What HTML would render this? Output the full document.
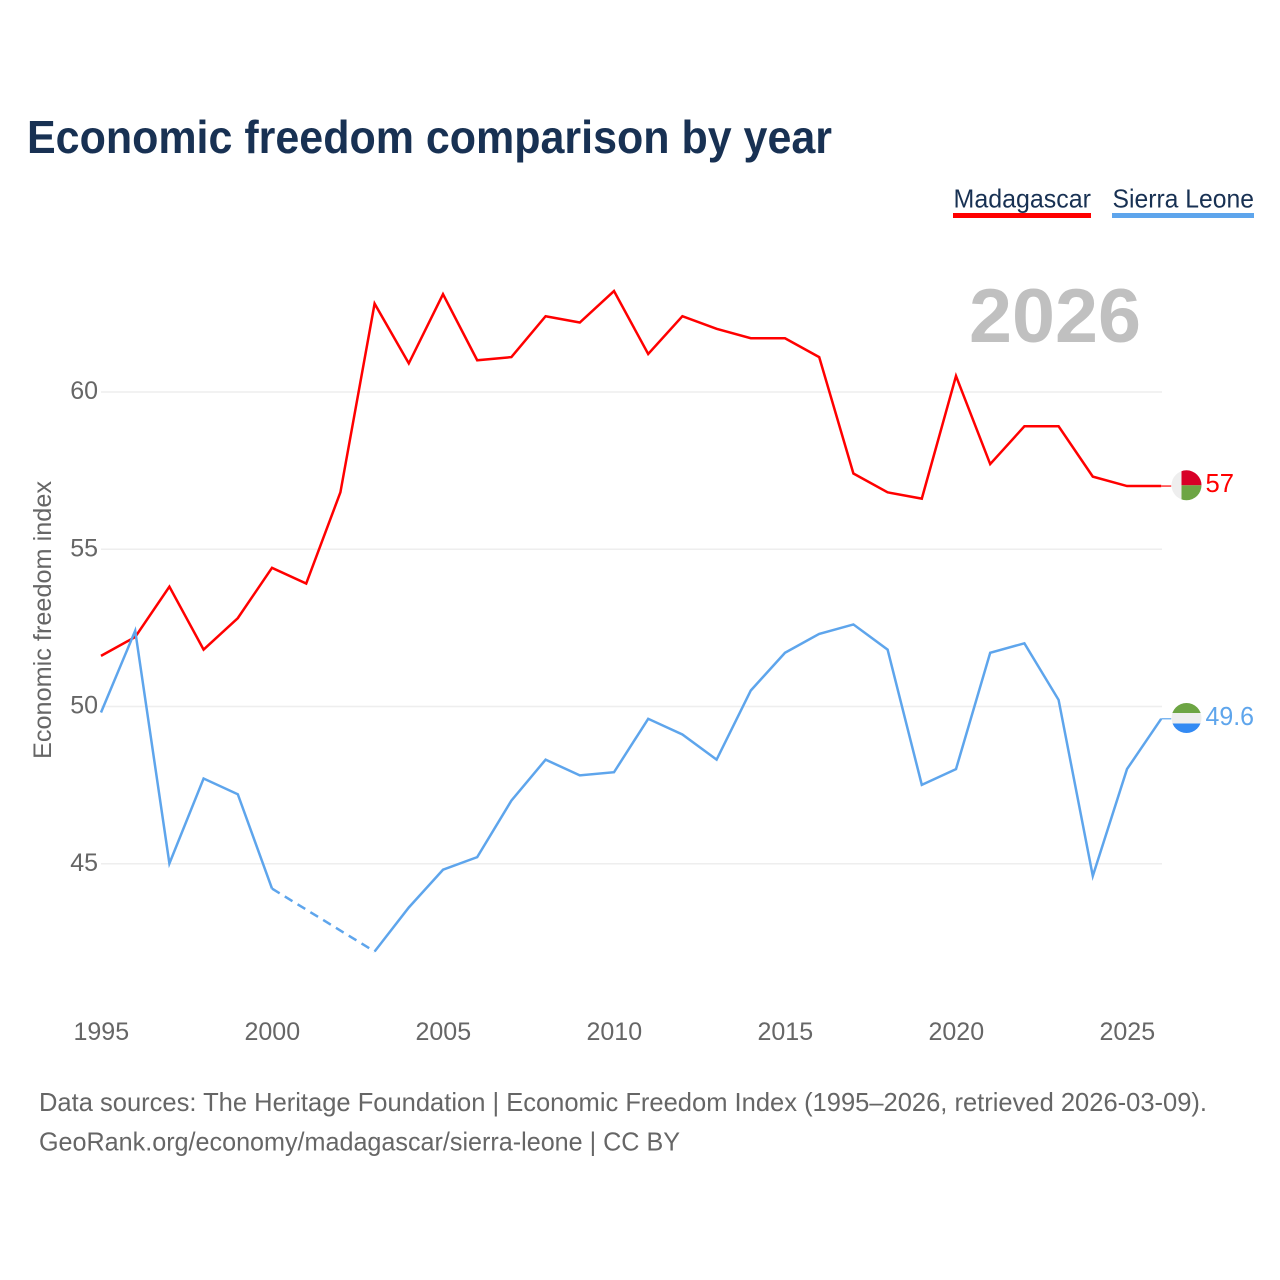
<!DOCTYPE html>
<html lang="en">
<head>
<meta charset="utf-8">
<title>Economic freedom comparison by year</title>
<style>
html,body{margin:0;padding:0;background:#fff;}
svg{display:block;font-family:"Liberation Sans",sans-serif;}
</style>
</head>
<body>
<svg id="chart" width="1280" height="1280" viewBox="0 0 1280 1280" xmlns="http://www.w3.org/2000/svg">
  <rect x="0" y="0" width="1280" height="1280" fill="#fff"/>
  <text x="27" y="153" font-size="46" font-weight="700" fill="#183153" textLength="805" lengthAdjust="spacingAndGlyphs">Economic freedom comparison by year</text>

  <g>
    <text x="953.5" y="207.5" font-size="26" fill="#183153" textLength="137.5" lengthAdjust="spacingAndGlyphs">Madagascar</text>
    <rect x="953" y="213" width="138" height="5" fill="#ff0000"/>
  </g>
  <g>
    <text x="1112.5" y="207.5" font-size="26" fill="#183153" textLength="141.5" lengthAdjust="spacingAndGlyphs">Sierra Leone</text>
    <rect x="1112" y="213" width="142" height="5" fill="#5ea5ec"/>
  </g>

  <text x="969" y="342" font-size="76" font-weight="700" fill="#c0c0c0" textLength="172" lengthAdjust="spacingAndGlyphs">2026</text>

  <g id="grid"></g>
  <g id="yticks"></g>
  <g id="xticks"></g>
  <text transform="translate(51 759) rotate(-90)" x="0" y="0" font-size="25" fill="#666" textLength="278" lengthAdjust="spacingAndGlyphs">Economic freedom index</text>
  <g id="series"></g>

  <defs>
    <clipPath id="flag-clip-mg"><circle cx="1186.5" cy="485.3" r="15"/></clipPath>
    <clipPath id="flag-clip-sl"><circle cx="1186.5" cy="718" r="15"/></clipPath>
  </defs>
  <g id="flag-mg" clip-path="url(#flag-clip-mg)">
    <rect x="1171" y="470" width="10.5" height="31" fill="#eeeeee"/>
    <rect x="1181.5" y="470" width="20" height="15.3" fill="#d80027"/>
    <rect x="1181.5" y="485.3" width="20" height="15.7" fill="#6da544"/>
  </g>
  <g id="flag-sl" clip-path="url(#flag-clip-sl)">
    <rect x="1171" y="703" width="31" height="10" fill="#6da544"/>
    <rect x="1171" y="713" width="31" height="10.5" fill="#eeeeee"/>
    <rect x="1171" y="723.5" width="31" height="10" fill="#338af3"/>
  </g>
  <text x="1205.5" y="492" font-size="26" fill="#ff0000" textLength="28.5" lengthAdjust="spacingAndGlyphs">57</text>
  <text x="1205.5" y="725" font-size="26" fill="#5ea5ec" textLength="48.5" lengthAdjust="spacingAndGlyphs">49.6</text>

  <text x="39" y="1111" font-size="26" fill="#666" textLength="1168" lengthAdjust="spacingAndGlyphs">Data sources: The Heritage Foundation | Economic Freedom Index (1995–2026, retrieved 2026-03-09).</text>
  <text x="39" y="1150.5" font-size="26" fill="#666" textLength="641" lengthAdjust="spacingAndGlyphs">GeoRank.org/economy/madagascar/sierra-leone | CC BY</text>
</svg>
<script>
var years = [1995,1996,1997,1998,1999,2000,2001,2002,2003,2004,2005,2006,2007,2008,2009,2010,2011,2012,2013,2014,2015,2016,2017,2018,2019,2020,2021,2022,2023,2024,2025,2026];
var madagascar = [51.6,52.2,53.8,51.8,52.8,54.4,53.9,56.8,62.8,60.9,63.1,61.0,61.1,62.4,62.2,63.2,61.2,62.4,62.0,61.7,61.7,61.1,57.4,56.8,56.6,60.5,57.7,58.9,58.9,57.3,57.0,57.0];
var sierraLeone = [49.8,52.4,45.0,47.7,47.2,44.2,null,null,42.2,43.6,44.8,45.2,47.0,48.3,47.8,47.9,49.6,49.1,48.3,50.5,51.7,52.3,52.6,51.8,47.5,48.0,51.7,52.0,50.2,44.6,48.0,49.6];
var yTickValues = [45,50,55,60];
var xTickValues = [1995,2000,2005,2010,2015,2020,2025];

var NS = 'http://www.w3.org/2000/svg';
function xScale(year){ return 101 + (year - 1995) * 34.2; }
function yScale(v){ return 391.7 + (60 - v) * 31.45; }
function make(tag, attrs, parent){
  var el = document.createElementNS(NS, tag);
  for (var k in attrs) el.setAttribute(k, attrs[k]);
  parent.appendChild(el);
  return el;
}
var grid = document.getElementById('grid');
var yticks = document.getElementById('yticks');
var xticks = document.getElementById('xticks');
var series = document.getElementById('series');

yTickValues.forEach(function(v){
  var line = make('line', {x1:101, x2:1162, y1:yScale(v) + 0.3, y2:yScale(v) + 0.3, stroke:'#eeeeee', 'stroke-width':1.5}, grid);
  
  
  var t = make('text', {x:98, y:yScale(v) + 7.3, 'text-anchor':'end', 'font-size':25, fill:'#666'}, yticks);
  
  
  t.textContent = v;
});
xTickValues.forEach(function(y){
  var t = make('text', {x:xScale(y) + 0.3, y:1040, 'text-anchor':'middle', 'font-size':25, fill:'#666'}, xticks);
  
  
  t.textContent = y;
});

function pointsOf(idx, vals){
  return idx.map(function(i){ return xScale(years[i]) + ',' + yScale(vals[i]); }).join(' ');
}
function drawSeries(vals, color, name){
  var run = [], lastIdx = null;
  function flush(){
    if (run.length > 1) {
      var p = make('polyline', {points:pointsOf(run, vals), fill:'none', stroke:color, 'stroke-width':2.5, 'stroke-linejoin':'miter', 'stroke-miterlimit':10}, series);
      
      
    }
    run = [];
  }
  vals.forEach(function(v, i){
    if (v === null) { flush(); return; }
    if (lastIdx !== null && i - lastIdx > 1) {
      var d = make('polyline', {points:pointsOf([lastIdx, i], vals), fill:'none', stroke:color, 'stroke-width':2.5, 'stroke-dasharray':'9 6'}, series);
      
      
    }
    run.push(i);
    lastIdx = i;
  });
  flush();
  var endV = vals[vals.length - 1];
  var endX = xScale(years[years.length - 1]);
  var c = make('line', {x1:endX, x2:endX + 10, y1:yScale(endV), y2:yScale(endV), stroke:color, 'stroke-width':1.2}, series);
  
  
}
drawSeries(madagascar, '#ff0000', 'madagascar');
drawSeries(sierraLeone, '#5ea5ec', 'sierra-leone');
</script>
</body>
</html>
